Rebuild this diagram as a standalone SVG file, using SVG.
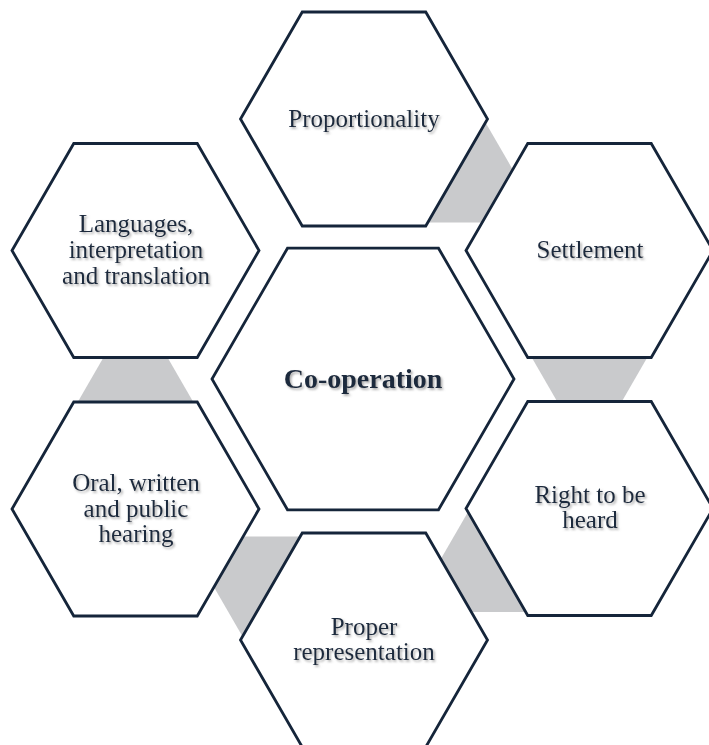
<svg xmlns="http://www.w3.org/2000/svg" width="709" height="745" viewBox="0 0 709 745">
  <defs>
    <style>
      .hex { fill: #ffffff; stroke: #15253a; stroke-width: 2.8; stroke-linejoin: miter; }
      .link { fill: #c9cacc; stroke: none; }
      .label { font-family: "Liberation Serif", "Times New Roman", serif; font-size: 25px; fill: #1b2a3e; text-anchor: middle; filter: url(#shadow); }
      .hub { font-size: 28px; font-weight: bold; }
    </style>
    <filter id="shadow" x="-10%" y="-30%" width="120%" height="160%">
      <feDropShadow dx="1.6" dy="1.8" stdDeviation="1.1" flood-color="#7d7d7d" flood-opacity="0.65"/>
    </filter>
  </defs>

  <rect width="709" height="745" fill="#ffffff"/>

  <!-- trapezoid links between neighbouring outer hexagons -->
  <g id="connectors">
    <polygon class="link" points="485.5,122.5 513.9,171.6 484.5,222.5 427.8,222.5"/>
    <polygon class="link" points="647.25,357.5 620.7,403.5 558.3,403.5 531.75,357.5"/>
    <polygon class="link" points="525.75,612 469.05,612 439.65,561.06 468,511.96"/>
    <polygon class="link" points="300.25,536.46 240.75,536.46 212.75,585.04 242.5,636.54"/>
    <polygon class="link" points="193.25,402 166.4,355.5 104.6,355.5 77.75,402"/>
  </g>

  <g id="hub">
    <polygon class="hex" points="514,379 438.5,509.8 287.5,509.8 212,379 287.5,248.2 438.5,248.2"/>
    <text class="label hub" x="363" y="388">Co-operation</text>
  </g>

  <g id="proportionality">
    <polygon class="hex" points="487.5,119 425.75,226 302.25,226 240.5,119 302.25,12 425.75,12"/>
    <text class="label" x="364" y="127">Proportionality</text>
  </g>

  <g id="settlement">
    <polygon class="hex" points="713,250.5 651.25,357.5 527.75,357.5 466,250.5 527.75,143.5 651.25,143.5"/>
    <text class="label" x="590" y="258">Settlement</text>
  </g>

  <g id="right-to-be-heard">
    <polygon class="hex" points="713,508.5 651.25,615.5 527.75,615.5 466,508.5 527.75,401.5 651.25,401.5"/>
    <text class="label" x="590" y="503">Right to be</text>
    <text class="label" x="590" y="528">heard</text>
  </g>

  <g id="proper-representation">
    <polygon class="hex" points="487.5,640 425.75,747 302.25,747 240.5,640 302.25,533 425.75,533"/>
    <text class="label" x="364" y="635">Proper</text>
    <text class="label" x="364" y="660">representation</text>
  </g>

  <g id="oral-written-public-hearing">
    <polygon class="hex" points="259,509 197.25,616 73.75,616 12,509 73.75,402 197.25,402"/>
    <text class="label" x="136" y="491">Oral, written</text>
    <text class="label" x="136" y="517">and public</text>
    <text class="label" x="136" y="542">hearing</text>
  </g>

  <g id="languages">
    <polygon class="hex" points="259,250.5 197.25,357.5 73.75,357.5 12,250.5 73.75,143.5 197.25,143.5"/>
    <text class="label" x="136" y="232">Languages,</text>
    <text class="label" x="136" y="258">interpretation</text>
    <text class="label" x="136" y="284">and translation</text>
  </g>
</svg>
